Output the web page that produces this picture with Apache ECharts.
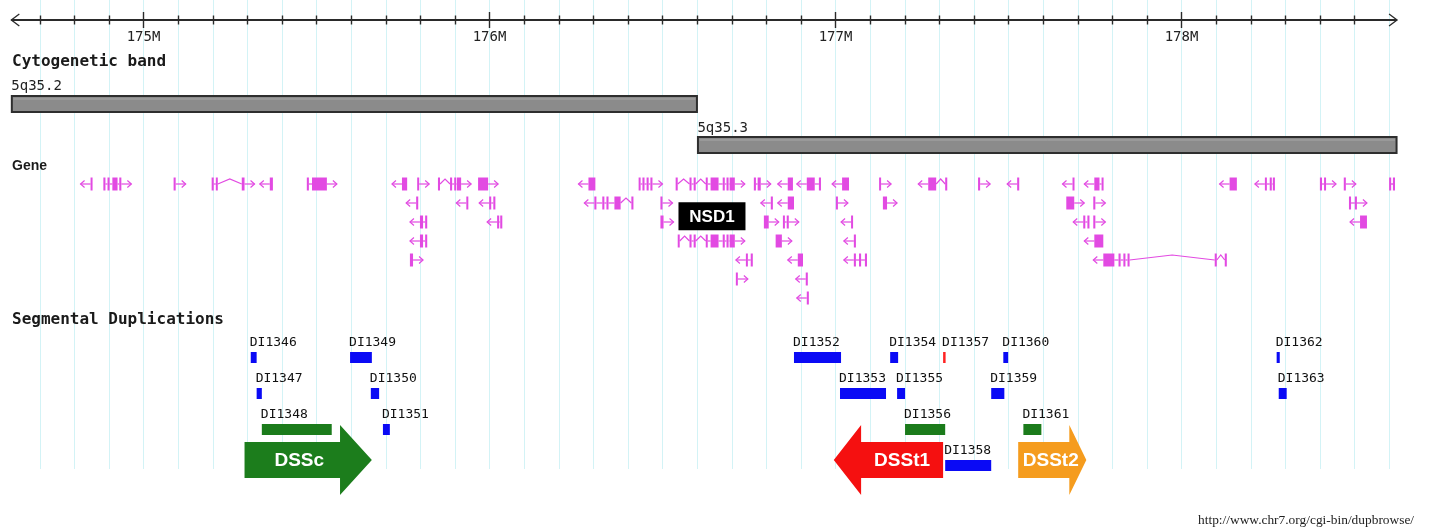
<!DOCTYPE html>
<html><head><meta charset="utf-8">
<script src="https://cdn.jsdelivr.net/npm/echarts@6.0.0/dist/echarts.min.js"></script>
<style>html,body{margin:0;padding:0;background:#fff}#c{width:1431px;height:531px}</style>
</head><body><div id="c"></div>
<script>
// ================= DATA (positions in Mb on chr5) =================
const viewStart = 174.618, viewEnd = 178.623;
const majorTicks = [175, 176, 177, 178];
const majorTickLabels = ['175M', '176M', '177M', '178M'];
const minorTicks = [174.7,174.8,174.9,175.0,175.1,175.2,175.3,175.4,175.5,175.6,175.7,175.8,175.9,176.0,176.1,176.2,176.3,176.4,176.5,176.6,176.7,176.8,176.9,177.0,177.1,177.2,177.3,177.4,177.5,177.6,177.7,177.8,177.9,178.0,178.1,178.2,178.3,178.4,178.5];
const gridLines = [174.7,174.8,174.9,175.0,175.1,175.2,175.3,175.4,175.5,175.6,175.7,175.8,175.9,176.0,176.1,176.2,176.3,176.4,176.5,176.6,176.7,176.8,176.9,177.0,177.1,177.2,177.3,177.4,177.5,177.6,177.7,177.8,177.9,178.0,178.1,178.2,178.3,178.4,178.5,178.6];

const bandNames  = ['5q35.2', '5q35.3'];
const bandStarts = [174.618, 176.601];
const bandEnds   = [176.601, 178.623];

// genes per lane: [strand, exons[[start,end],...]]
const lane1Genes = [
  ['-', [[174.847,174.852]]],
  ['+', [[174.884,174.890],[174.896,174.902],[174.910,174.925],[174.930,174.936]]],
  ['+', [[175.087,175.093]]],
  ['+', [[175.197,175.203],[175.209,175.214],[175.284,175.292]]],
  ['-', [[175.365,175.374]]],
  ['+', [[175.472,175.478],[175.487,175.530]]],
  ['-', [[175.747,175.762]]],
  ['+', [[175.791,175.796]]],
  ['+', [[175.851,175.857],[175.886,175.892],[175.898,175.904],[175.906,175.918]]],
  ['+', [[175.967,175.996]]],
  ['-', [[176.286,176.306]]],
  ['+', [[176.431,176.436],[176.442,176.448],[176.454,176.460],[176.465,176.471]]],
  ['+', [[176.538,176.544],[176.578,176.584],[176.590,176.596],[176.625,176.630],[176.639,176.662],[176.674,176.680],[176.685,176.691],[176.694,176.709]]],
  ['+', [[176.764,176.770],[176.775,176.784]]],
  ['-', [[176.862,176.877]]],
  ['-', [[176.917,176.940],[176.952,176.958]]],
  ['-', [[177.019,177.039]]],
  ['+', [[177.126,177.131]]],
  ['-', [[177.268,177.291],[177.317,177.323]]],
  ['+', [[177.412,177.418]]],
  ['-', [[177.525,177.531]]],
  ['-', [[177.685,177.690]]],
  ['-', [[177.748,177.763],[177.769,177.774]]],
  ['-', [[178.139,178.160]]],
  ['-', [[178.241,178.246],[178.255,178.261],[178.264,178.270]]],
  ['+', [[178.400,178.406],[178.412,178.417]]],
  ['+', [[178.469,178.475]]],
  ['.', [[178.600,178.606],[178.611,178.617]]]
];
const lane2Genes = [
  ['-', [[175.788,175.794]]],
  ['-', [[175.933,175.938]]],
  ['-', [[175.999,176.005],[176.011,176.017]]],
  ['-', [[176.303,176.309],[176.326,176.332],[176.338,176.344],[176.361,176.379],[176.410,176.416]]],
  ['+', [[176.494,176.500]]],
  ['-', [[176.813,176.819]]],
  ['-', [[176.862,176.880]]],
  ['+', [[177.001,177.007]]],
  ['+', [[177.137,177.149]]],
  ['+', [[177.667,177.690]]],
  ['+', [[177.745,177.751]]],
  ['+', [[178.484,178.490],[178.501,178.507]]]
];
const lane3Genes = [
  ['-', [[175.799,175.808],[175.814,175.820]]],
  ['-', [[176.022,176.028],[176.031,176.037]]],
  ['+', [[176.494,176.503]]],
  ['+', [[176.793,176.807]]],
  ['+', [[176.848,176.853],[176.859,176.865]]],
  ['-', [[177.045,177.050]]],
  ['-', [[177.716,177.722],[177.728,177.734]]],
  ['+', [[177.745,177.751]]],
  ['-', [[178.516,178.536]]]
];
const lane4Genes = [
  ['-', [[175.799,175.808],[175.814,175.820]]],
  ['+', [[176.544,176.549],[176.578,176.584],[176.590,176.596],[176.625,176.630],[176.639,176.662],[176.674,176.680],[176.685,176.691],[176.694,176.709]]],
  ['+', [[176.827,176.845]]],
  ['-', [[177.053,177.059]]],
  ['-', [[177.748,177.774]]]
];
const lane5Genes = [
  ['+', [[175.770,175.779]]],
  ['-', [[176.741,176.746],[176.755,176.761]]],
  ['-', [[176.891,176.906]]],
  ['-', [[177.053,177.059],[177.068,177.074],[177.085,177.091]]],
  ['-', [[177.774,177.806],[177.818,177.824],[177.832,177.838],[177.844,177.850],[178.096,178.102],[178.125,178.131]]]
];
const lane6Genes = [
  ['+', [[176.712,176.717]]],
  ['-', [[176.914,176.920]]]
];
const lane7Genes = [
  ['-', [[176.917,176.923]]]
];
const geneLabelNames = ['NSD1'];
const geneLabelPos   = [176.643];

// segmental duplications
const dupNames  = ['DI1346','DI1349','DI1347','DI1350','DI1348','DI1351','DI1352','DI1354','DI1357','DI1360','DI1353','DI1355','DI1359','DI1356','DI1361','DI1358','DI1362','DI1363'];
const dupStarts = [175.310,175.597,175.327,175.657,175.342,175.692,176.880,177.158,177.311,177.485,177.013,177.178,177.450,177.201,177.543,177.317,178.275,178.281];
const dupEnds   = [175.327,175.660,175.342,175.681,175.544,175.712,177.016,177.181,177.317,177.499,177.146,177.201,177.488,177.317,177.595,177.450,178.284,178.304];
const dupLanes  = [0,0,1,1,2,2,0,0,0,0,1,1,1,2,2,3,0,1];
const dupClass  = ['A','A','A','A','B','A','A','A','C','A','A','A','A','B','B','A','A','A'];

// duplication stretches (big arrows)
const dssNames   = ['DSSc', 'DSSt1', 'DSSt2'];
const dssStarts  = [175.292, 176.995, 177.528];
const dssEnds    = [175.660, 177.311, 177.725];
const dssStrands = ['+', '-', '+'];

// ================= STYLE / LAYOUT =================
const GENE_COLOR = '#e24ae2';
const DUP_COLORS = {A: '#0a0af5', B: '#1b7b1b', C: '#ff2222'};
const DSS_COLORS = ['#1c7d1c', '#f51010', '#f59c1e'];
const MONO = '"DejaVu Sans Mono", "Liberation Mono", monospace';
const SANS = '"Liberation Sans", Arial, sans-serif';
const L = {
  axisY: 20, tickLabelY: 37, gridTop: 0, gridBottom: 469,
  bandLabelY: [86, 128], bandTop: [96, 137], bandH: 16,
  geneRow0: 184, geneStep: 19, exonH: 13,
  dupRow0: 357.5, dupStep: 36, dupH: 11,
  dssY: 460, dssBodyH: 36, dssHeadH: 70
};

const allGenes = [];
[lane1Genes, lane2Genes, lane3Genes, lane4Genes, lane5Genes, lane6Genes, lane7Genes].forEach((arr, lane) => {
  arr.forEach(g => allGenes.push({strand: g[0], exons: g[1], lane}));
});

const chart = echarts.init(document.getElementById('c'), null, {renderer: 'canvas'});
const mkX = api => v => api.coord([v, 0])[0];
const mkY = api => p => api.coord([viewStart, p])[1];

const option = {
  animation: false,
  backgroundColor: '#fff',
  grid: {left: 0, right: 0, top: 0, bottom: 0},
  xAxis: {type: 'value', min: 174.58526, max: 178.72110, show: false},
  yAxis: {type: 'value', min: 0, max: 531, inverse: true, show: false},
  graphic: [
    {type: 'text', z: 100, x: 12, y: 62, style: {text: 'Cytogenetic band', font: 'bold 16px ' + MONO, fill: '#1a1a1a', verticalAlign: 'middle'}},
    {type: 'text', z: 100, x: 12, y: 166, style: {text: 'Gene', font: 'bold 14px ' + SANS, fill: '#1a1a1a', verticalAlign: 'middle'}},
    {type: 'text', z: 100, x: 12, y: 320, style: {text: 'Segmental Duplications', font: 'bold 16px ' + MONO, fill: '#1a1a1a', verticalAlign: 'middle'}},
    {type: 'text', z: 100, x: 1198, y: 520, style: {text: 'http://www.chr7.org/cgi-bin/dupbrowse/', font: '13.4px "Liberation Serif", "Times New Roman", serif', fill: '#222', verticalAlign: 'middle'}}
  ],
  series: [
    { // vertical guide lines
      type: 'custom', clip: false, silent: true, z: 1,
      data: gridLines.map(v => [v, 0]),
      renderItem: (p, api) => {
        const X = mkX(api), Y = mkY(api);
        const x = Math.round(X(gridLines[p.dataIndex])) + 0.5;
        return {type: 'line', shape: {x1: x, y1: Y(L.gridTop), x2: x, y2: Y(L.gridBottom)}, style: {stroke: '#d3f3f6', lineWidth: 1}};
      }
    },
    { // position axis line with arrows
      type: 'custom', clip: false, silent: true, z: 5,
      data: [[viewStart, viewEnd]],
      renderItem: (p, api) => {
        const X = mkX(api), Y = mkY(api);
        const x0 = X(viewStart), x1 = X(viewEnd), y = Y(L.axisY);
        return {type: 'group', children: [
          {type: 'line', shape: {x1: x0, y1: y, x2: x1, y2: y}, style: {stroke: '#2a2a2a', lineWidth: 2}},
          {type: 'polyline', shape: {points: [[x0 + 8, y - 6], [x0, y], [x0 + 8, y + 6]]}, style: {stroke: '#2a2a2a', lineWidth: 1.3, fill: null}},
          {type: 'polyline', shape: {points: [[x1 - 8, y - 6], [x1, y], [x1 - 8, y + 6]]}, style: {stroke: '#2a2a2a', lineWidth: 1.3, fill: null}}
        ]};
      }
    },
    { // ticks
      type: 'custom', clip: false, silent: true, z: 5,
      data: minorTicks.map(v => [v, 0]),
      renderItem: (p, api) => {
        const X = mkX(api), Y = mkY(api);
        const v = minorTicks[p.dataIndex];
        const major = majorTicks.some(m => Math.abs(m - v) < 1e-6);
        const x = Math.round(X(v)) + 0.5, y = Y(L.axisY);
        const h = major ? 8 : 4.5;
        return {type: 'line', shape: {x1: x, y1: y - h, x2: x, y2: y + h}, style: {stroke: '#2a2a2a', lineWidth: 1.4}};
      }
    },
    { // tick labels
      type: 'custom', clip: false, silent: true, z: 5,
      data: majorTicks.map(v => [v, 0]),
      renderItem: (p, api) => {
        const X = mkX(api), Y = mkY(api);
        return {type: 'text', style: {text: majorTickLabels[p.dataIndex], x: X(majorTicks[p.dataIndex]), y: Y(L.tickLabelY),
          font: '14px ' + MONO, fill: '#222', align: 'center', verticalAlign: 'middle'}};
      }
    },
    { // cytogenetic bands
      type: 'custom', clip: false, silent: true, z: 6,
      data: bandNames.map((n, i) => [bandStarts[i], bandEnds[i]]),
      renderItem: (p, api) => {
        const X = mkX(api), Y = mkY(api);
        const i = p.dataIndex;
        const x0 = X(bandStarts[i]), x1 = X(bandEnds[i]);
        const top = Y(L.bandTop[i]);
        return {type: 'group', children: [
          {type: 'rect', shape: {x: x0 + 0.5, y: top, width: x1 - x0 - 1, height: L.bandH}, style: {fill: '#8b8b8b', stroke: '#2e2e2e', lineWidth: 2}},
          {type: 'line', shape: {x1: x0 + 2, y1: top + 3, x2: x1 - 2, y2: top + 3}, style: {stroke: '#a8a8a8', lineWidth: 1}},
          {type: 'text', style: {text: bandNames[i], x: x0, y: Y(L.bandLabelY[i]), font: '14px ' + MONO, fill: '#222', verticalAlign: 'middle'}}
        ]};
      }
    },
    { // genes
      type: 'custom', clip: false, silent: true, z: 7,
      data: allGenes.map(g => [g.exons[0][0], g.exons[g.exons.length - 1][1]]),
      renderItem: (p, api) => {
        const X = mkX(api), Y = mkY(api);
        const g = allGenes[p.dataIndex];
        const yc = Y(L.geneRow0 + g.lane * L.geneStep);
        const ch = [];
        const st = {stroke: GENE_COLOR, lineWidth: 1.2, fill: null};
        const ex = g.exons.map(e => { let a = X(e[0]), b = X(e[1]); if (b - a < 2) b = a + 2; return [a, b]; });
        for (let i = 0; i < ex.length - 1; i++) {
          const a = ex[i][1], b = ex[i + 1][0];
          if (b - a > 7) ch.push({type: 'polyline', shape: {points: [[a, yc], [(a + b) / 2, yc - 5], [b, yc]]}, style: st});
          else if (b > a) ch.push({type: 'line', shape: {x1: a, y1: yc, x2: b, y2: yc}, style: st});
        }
        ex.forEach(e => ch.push({type: 'rect', shape: {x: e[0], y: yc - L.exonH / 2, width: e[1] - e[0], height: L.exonH}, style: {fill: GENE_COLOR}}));
        if (g.strand === '+') {
          const xe = ex[ex.length - 1][1], t = xe + 10;
          ch.push({type: 'line', shape: {x1: xe, y1: yc, x2: t, y2: yc}, style: st});
          ch.push({type: 'polyline', shape: {points: [[t - 4, yc - 3.5], [t, yc], [t - 4, yc + 3.5]]}, style: st});
        } else if (g.strand === '-') {
          const xs = ex[0][0], t = xs - 10;
          ch.push({type: 'line', shape: {x1: xs, y1: yc, x2: t, y2: yc}, style: st});
          ch.push({type: 'polyline', shape: {points: [[t + 4, yc - 3.5], [t, yc], [t + 4, yc + 3.5]]}, style: st});
        } else if (ex.length > 1) {
          ch.push({type: 'line', shape: {x1: ex[0][1], y1: yc, x2: ex[ex.length - 1][0], y2: yc}, style: st});
        }
        return {type: 'group', children: ch};
      }
    },
    { // gene name tag
      type: 'custom', clip: false, silent: true, z: 8,
      data: geneLabelPos.map(v => [v, 0]),
      renderItem: (p, api) => {
        const X = mkX(api), Y = mkY(api);
        const cx = X(geneLabelPos[p.dataIndex]);
        const cy = Y(L.geneRow0 + 1.7 * L.geneStep);
        return {type: 'group', children: [
          {type: 'rect', shape: {x: cx - 33.5, y: cy - 14, width: 67, height: 28}, style: {fill: '#000'}},
          {type: 'text', style: {text: geneLabelNames[p.dataIndex], x: cx, y: cy + 1, font: 'bold 17px ' + SANS, fill: '#fff', align: 'center', verticalAlign: 'middle'}}
        ]};
      }
    },
    { // segmental duplications
      type: 'custom', clip: false, silent: true, z: 8,
      data: dupNames.map((n, i) => [dupStarts[i], dupEnds[i]]),
      renderItem: (p, api) => {
        const X = mkX(api), Y = mkY(api);
        const i = p.dataIndex;
        const x0 = X(dupStarts[i]); let x1 = X(dupEnds[i]); if (x1 - x0 < 2.5) x1 = x0 + 2.5;
        const yc = Y(L.dupRow0 + dupLanes[i] * L.dupStep);
        const top = yc - L.dupH / 2;
        return {type: 'group', children: [
          {type: 'rect', shape: {x: x0, y: top, width: x1 - x0, height: L.dupH}, style: {fill: DUP_COLORS[dupClass[i]]}},
          {type: 'text', style: {text: dupNames[i], x: x0 - 1, y: top - 9, font: '13px ' + MONO, fill: '#111', verticalAlign: 'middle'}}
        ]};
      }
    },
    { // duplication stretch arrows
      type: 'custom', clip: false, silent: true, z: 7,
      data: dssNames.map((n, i) => [dssStarts[i], dssEnds[i]]),
      renderItem: (p, api) => {
        const X = mkX(api), Y = mkY(api);
        const i = p.dataIndex;
        const x0 = X(dssStarts[i]), x1 = X(dssEnds[i]);
        const yc = Y(L.dssY), bh = L.dssBodyH / 2, hh = L.dssHeadH / 2;
        const hl = 0.25 * (x1 - x0);
        let pts, tx;
        if (dssStrands[i] === '+') {
          pts = [[x0, yc - bh], [x1 - hl, yc - bh], [x1 - hl, yc - hh], [x1, yc], [x1 - hl, yc + hh], [x1 - hl, yc + bh], [x0, yc + bh]];
          tx = (x0 + x1 - hl) / 2 + 7;
        } else {
          pts = [[x1, yc - bh], [x0 + hl, yc - bh], [x0 + hl, yc - hh], [x0, yc], [x0 + hl, yc + hh], [x0 + hl, yc + bh], [x1, yc + bh]];
          tx = (x0 + hl + x1) / 2;
        }
        return {type: 'group', children: [
          {type: 'polygon', shape: {points: pts}, style: {fill: DSS_COLORS[i]}},
          {type: 'text', style: {text: dssNames[i], x: tx, y: yc + 1, font: 'bold 19px ' + SANS, fill: '#fff', align: 'center', verticalAlign: 'middle'}}
        ]};
      }
    }
  ]
};
chart.setOption(option);
</script>
</body></html>
